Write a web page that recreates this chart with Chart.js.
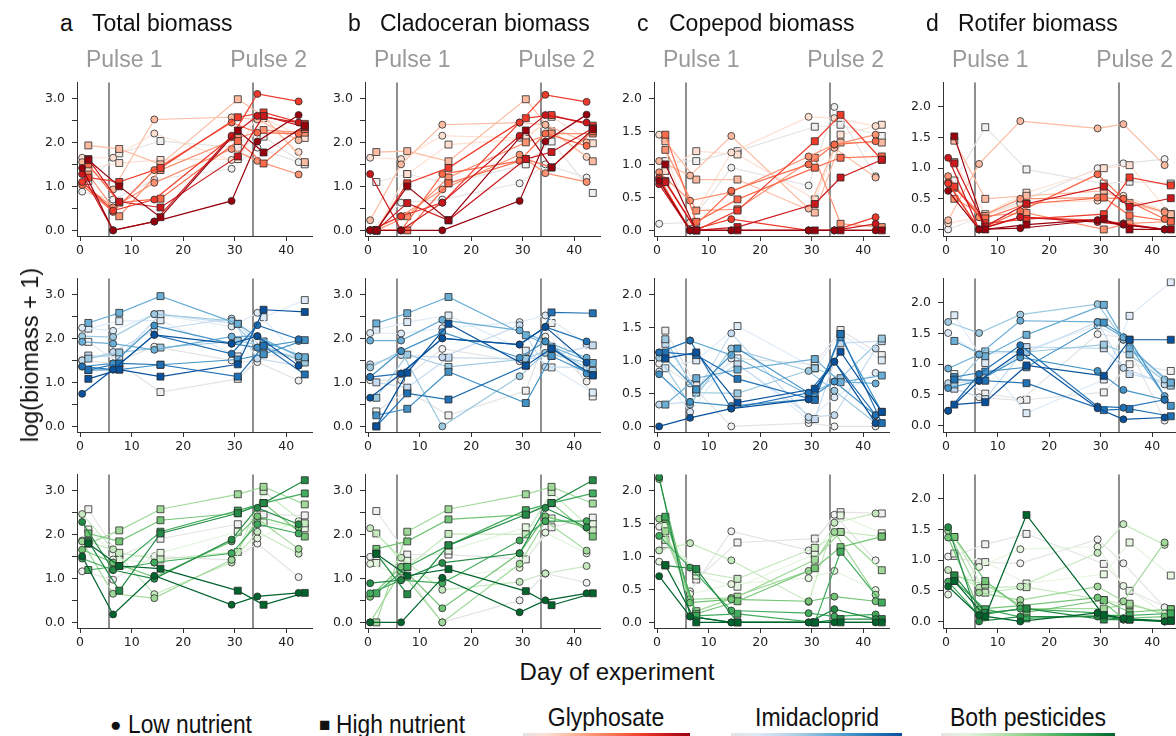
<!DOCTYPE html>
<html>
<head>
<meta charset="utf-8">
<script src="https://cdn.jsdelivr.net/npm/chart.js@4.4.0/dist/chart.umd.min.js"></script>
<style>
  body { margin: 0; width: 1176px; height: 736px; overflow: hidden; background: #fff; position: relative;
         font-family: "Liberation Sans", Arial, sans-serif; color: #111; }
  .t { position: absolute; white-space: nowrap; line-height: 24px; font-size: 23px; }
  .pulse { color: #999; }
  .leg { position: absolute; white-space: nowrap; font-family: "Liberation Sans", sans-serif; font-size: 25px; line-height: 26px; }
  .bar { position: absolute; height: 4px; top: 733px; }
  canvas { position: absolute; }
</style>
</head>
<body>
<script>
// sampling days; low nutrient tanks are plotted a bit left, high nutrient a bit right
const daysLow  = [0.4, 6.4, 14.4, 29.4, 34.4, 42.4];
const daysHigh = [1.6, 7.6, 15.6, 30.6, 35.6, 43.6];
const pulseDays = [5.6, 33.6];
const pulseLabels = ['Pulse 1', 'Pulse 2'];
const panelLetters = ['a', 'b', 'c', 'd'];
const panelTitles = ['Total biomass', 'Cladoceran biomass', 'Copepod biomass', 'Rotifer biomass'];
const legendNames = ['Glyphosate', 'Imidacloprid', 'Both pesticides'];

// 8 concentration levels, control (grey) -> highest
const reds   = ['#e4e4e4', '#fee0d2', '#fcbba1', '#fc9272', '#fb6a4a', '#ef3b2c', '#cb181d', '#99000d'];
const blues  = ['#e4e4e4', '#deebf7', '#c6dbef', '#9ecae1', '#6baed6', '#4292c6', '#2171b5', '#08519c'];
const greens = ['#e4e4e4', '#e5f5e0', '#c7e9c0', '#a1d99b', '#74c476', '#41ab5d', '#238b45', '#00642d'];

// log(biomass + 1), one row per concentration level, one value per sampling day
// ---- glyphosate ----
const totalGlyLow = [
  [0.88, 0.70, 1.15, 1.40, 1.88, 1.55], [1.65, 1.65, 2.20, 1.60, 2.60, 1.78],
  [1.55, 0.93, 2.52, 2.57, 2.52, 2.05], [1.08, 0.52, 1.08, 1.85, 1.58, 1.27],
  [1.03, 0.42, 1.37, 2.45, 2.22, 2.20], [1.10, 0.45, 0.70, 2.12, 3.10, 2.93],
  [1.28, 0.00, 0.20, 2.15, 2.60, 2.45], [1.42, 0.00, 0.20, 0.67, 2.02, 2.62]];
const totalGlyHigh = [
  [1.12, 1.75, 2.03, 1.88, 2.13, 1.50], [1.40, 1.53, 1.60, 1.62, 2.55, 2.10],
  [1.93, 1.85, 1.50, 2.98, 2.60, 1.55], [1.27, 0.32, 1.37, 2.10, 2.28, 2.22],
  [1.50, 0.63, 0.72, 2.03, 1.52, 2.30], [1.20, 1.10, 1.42, 2.57, 2.68, 2.42],
  [1.62, 0.65, 0.52, 1.68, 2.60, 2.35], [1.60, 1.00, 0.30, 2.27, 1.77, 2.38]];
const cladGlyLow = [
  [0.00, 0.63, 0.70, 1.07, 1.50, 1.20], [1.65, 1.62, 2.15, 2.10, 2.40, 1.67],
  [0.23, 1.50, 2.40, 2.45, 2.40, 2.00], [0.00, 0.32, 0.93, 1.72, 1.30, 1.10],
  [0.00, 0.00, 1.28, 1.58, 2.20, 1.92], [0.00, 0.32, 0.63, 2.45, 3.08, 2.92],
  [1.28, 0.00, 0.63, 2.15, 2.62, 2.45], [0.00, 0.00, 0.00, 0.67, 2.02, 2.63]];
const cladGlyHigh = [
  [1.10, 1.28, 1.07, 1.50, 2.02, 0.85], [0.00, 1.28, 1.95, 2.08, 2.58, 1.98],
  [1.78, 1.80, 1.57, 2.98, 2.25, 1.57], [0.00, 0.32, 1.20, 2.00, 2.20, 2.20],
  [0.00, 0.00, 1.07, 1.62, 1.43, 2.25], [0.00, 1.07, 1.42, 2.55, 2.62, 2.38],
  [0.00, 0.62, 0.23, 1.62, 1.78, 2.32], [0.00, 1.00, 0.23, 2.27, 1.43, 2.30]];
const copeGlyLow = [
  [0.10, 0.12, 0.95, 0.68, 1.87, 0.82], [1.45, 0.12, 1.18, 1.72, 1.70, 1.58],
  [1.05, 0.83, 1.43, 0.33, 1.25, 0.80], [0.88, 0.45, 0.58, 1.12, 1.30, 1.45],
  [0.80, 0.00, 0.60, 1.00, 1.30, 1.35], [0.78, 0.00, 0.17, 0.00, 0.00, 0.20],
  [0.70, 0.00, 0.00, 0.00, 0.00, 0.10], [0.75, 0.00, 0.00, 0.00, 0.00, 0.00]];
const copeGlyHigh = [
  [1.05, 1.05, 1.20, 1.57, 1.60, 1.43], [0.90, 1.20, 1.15, 0.47, 1.45, 1.60],
  [1.35, 0.77, 0.77, 0.27, 1.33, 1.33], [1.22, 0.30, 0.32, 1.10, 0.10, 0.05],
  [1.45, 0.13, 0.47, 0.95, 1.10, 1.12], [0.75, 0.00, 0.30, 1.35, 1.75, 1.07],
  [0.73, 0.00, 0.05, 0.40, 0.80, 1.07], [1.00, 0.00, 0.00, 0.00, 0.00, 0.00]];
const rotiGlyLow = [
  [0.00, 0.20, 0.45, 1.00, 1.08, 1.15], [0.10, 0.20, 0.42, 0.47, 0.55, 0.30],
  [0.15, 1.07, 1.77, 1.65, 1.72, 1.05], [0.87, 0.20, 0.50, 0.52, 0.50, 0.28],
  [0.77, 0.00, 0.30, 0.90, 0.50, 0.17], [0.75, 0.00, 0.20, 0.15, 0.10, 0.00],
  [1.17, 0.00, 0.20, 0.12, 0.08, 0.00], [0.63, 0.00, 0.02, 0.15, 0.08, 0.00]];
const rotiGlyHigh = [
  [0.80, 1.67, 0.98, 0.75, 0.78, 0.75], [1.10, 0.25, 0.60, 1.00, 1.05, 0.25],
  [1.45, 0.50, 0.55, 0.63, 0.43, 0.25], [0.50, 0.22, 0.27, 0.00, 0.10, 0.13],
  [0.68, 0.18, 0.42, 0.52, 0.23, 0.13], [0.70, 0.10, 0.17, 0.25, 0.85, 0.72],
  [1.08, 0.05, 0.42, 0.70, 0.37, 0.51], [1.52, 0.00, 0.08, 0.17, 0.00, 0.00]];
// ---- imidacloprid ----
const totalImiLow = [
  [1.50, 1.43, 1.81, 1.50, 1.46, 1.04], [2.24, 2.17, 2.55, 2.27, 2.58, 1.59],
  [1.50, 1.69, 2.19, 2.45, 1.54, 1.38], [2.05, 2.03, 2.55, 2.40, 1.79, 1.54],
  [1.92, 1.88, 1.74, 2.04, 2.05, 1.59], [1.36, 1.43, 2.29, 1.88, 1.79, 1.94],
  [1.36, 1.29, 2.08, 1.65, 2.30, 1.98], [0.74, 1.29, 2.08, 1.88, 2.05, 1.38]];
const totalImiHigh = [
  [1.92, 1.43, 0.78, 1.08, 1.64, 1.54], [2.22, 2.39, 2.41, 1.59, 2.48, 2.87],
  [1.61, 1.57, 2.55, 2.33, 1.76, 1.54], [1.54, 1.68, 1.79, 1.94, 1.83, 1.45],
  [2.35, 2.58, 2.96, 2.33, 1.93, 1.57], [1.28, 1.29, 1.40, 1.52, 1.64, 1.96],
  [1.28, 1.43, 1.40, 1.13, 1.83, 1.18], [1.08, 1.29, 1.13, 1.41, 2.65, 2.60]];
const cladImiLow = [
  [1.05, 1.05, 1.76, 1.48, 2.04, 1.02], [2.12, 2.11, 2.23, 2.37, 2.52, 1.86],
  [1.41, 1.62, 1.57, 2.30, 1.35, 1.34], [1.34, 1.71, 0.00, 1.14, 1.67, 1.45],
  [1.95, 1.95, 2.42, 2.18, 1.93, 1.56], [1.12, 1.71, 2.14, 1.56, 1.93, 1.20],
  [1.12, 1.20, 2.00, 1.86, 2.26, 1.93], [0.65, 1.20, 2.00, 1.86, 2.26, 1.45]];
const cladImiHigh = [
  [0.34, 0.81, 0.25, 0.81, 2.35, 0.68], [2.19, 2.37, 2.52, 1.72, 1.34, 0.77],
  [1.00, 0.88, 1.56, 1.53, 1.60, 1.84], [0.65, 1.63, 1.35, 1.53, 1.77, 1.26],
  [2.34, 2.57, 2.94, 2.07, 1.81, 1.44], [0.25, 0.40, 1.24, 0.53, 1.60, 1.16],
  [0.00, 0.75, 0.61, 1.38, 2.59, 2.57], [0.00, 1.22, 2.33, 1.38, 1.77, 1.16]];
const copeImiLow = [
  [0.95, 0.65, 0.00, 0.05, 0.00, 0.00], [0.83, 0.22, 1.03, 0.10, 0.44, 0.81],
  [0.33, 0.37, 1.41, 0.14, 0.17, 1.18], [1.04, 0.33, 1.18, 0.84, 0.54, 0.05],
  [1.12, 1.30, 1.08, 0.48, 0.68, 0.65], [0.79, 0.37, 0.31, 0.41, 0.68, 0.17],
  [1.12, 1.30, 0.27, 0.51, 0.98, 0.17], [0.00, 0.13, 0.27, 0.41, 0.98, 0.05]];
const copeImiHigh = [
  [1.45, 0.62, 1.03, 0.94, 1.46, 1.08], [0.88, 1.00, 1.52, 0.88, 1.40, 1.00],
  [1.25, 0.56, 0.94, 0.11, 1.26, 1.29], [1.32, 0.51, 0.50, 0.88, 0.73, 1.33],
  [0.33, 0.73, 0.86, 1.02, 0.67, 0.77], [1.03, 0.56, 1.18, 0.45, 1.35, 0.22],
  [1.12, 1.08, 0.72, 0.40, 1.40, 0.05], [1.03, 1.12, 0.36, 0.57, 1.13, 0.22]];
const rotiImiLow = [
  [0.64, 0.46, 0.41, 1.49, 1.44, 0.08], [1.51, 1.16, 1.20, 1.63, 1.40, 0.70],
  [0.69, 0.73, 1.15, 1.69, 0.94, 0.67], [1.69, 1.51, 1.81, 1.98, 1.40, 0.75],
  [0.93, 1.16, 1.71, 1.69, 1.44, 0.48], [0.61, 0.73, 1.11, 0.89, 0.58, 0.42],
  [0.24, 0.84, 1.31, 0.31, 0.29, 0.42], [0.24, 0.73, 1.20, 0.28, 0.10, 0.13]];
const rotiImiHigh = [
  [0.84, 0.52, 0.42, 0.54, 1.00, 0.89], [1.80, 1.02, 0.20, 0.75, 1.79, 2.34],
  [0.60, 0.43, 1.28, 1.26, 0.84, 0.70], [0.67, 1.21, 1.20, 1.32, 1.16, 0.65],
  [1.38, 1.13, 1.48, 1.97, 1.26, 0.70], [0.79, 0.88, 0.95, 1.68, 1.40, 0.32],
  [0.75, 0.73, 0.69, 0.25, 0.27, 0.15], [0.34, 0.38, 0.98, 0.81, 1.40, 1.40]];
// ---- both pesticides ----
const totalBothLow = [
  [1.16, 0.97, 1.50, 1.42, 1.79, 1.03], [1.86, 1.43, 1.36, 1.57, 1.91, 2.30],
  [2.46, 1.66, 0.64, 1.36, 2.06, 1.56], [1.84, 0.65, 0.55, 1.42, 2.35, 1.67],
  [1.65, 1.36, 1.03, 1.84, 2.41, 2.16], [1.45, 1.19, 1.36, 1.57, 2.23, 2.02],
  [2.28, 1.19, 0.99, 1.88, 2.60, 2.23], [1.50, 0.18, 1.06, 0.40, 0.59, 0.67]];
const totalBothHigh = [
  [2.57, 1.50, 1.90, 2.23, 2.45, 2.43], [2.11, 1.43, 1.58, 2.06, 2.27, 2.14],
  [1.84, 1.58, 1.43, 1.60, 2.98, 2.25], [1.79, 2.09, 2.57, 2.91, 3.08, 2.68],
  [2.02, 1.84, 2.32, 2.48, 2.71, 1.95], [1.19, 1.28, 2.06, 2.54, 2.71, 2.93],
  [1.84, 0.72, 2.02, 2.48, 2.71, 3.23], [1.79, 1.28, 1.22, 0.72, 0.40, 0.67]];
const cladBothLow = [
  [1.49, 1.26, 0.00, 0.50, 1.11, 0.90], [1.33, 1.06, 1.01, 1.24, 2.04, 1.57],
  [2.14, 1.47, 0.74, 0.92, 1.11, 1.28], [0.00, 1.15, 0.00, 1.33, 2.30, 1.63],
  [0.58, 1.26, 0.32, 1.57, 2.41, 2.16], [0.66, 0.96, 0.89, 1.86, 2.30, 2.30],
  [0.89, 0.96, 1.35, 1.57, 2.60, 2.16], [0.00, 0.00, 1.01, 0.23, 0.50, 0.66]];
const cladBothHigh = [
  [2.53, 1.54, 1.54, 1.43, 2.16, 2.38], [1.35, 1.40, 1.63, 2.16, 2.36, 2.23],
  [2.02, 1.26, 2.01, 2.00, 2.96, 2.09], [0.00, 2.06, 2.57, 2.91, 3.08, 2.70],
  [1.67, 1.84, 2.34, 2.45, 2.71, 1.95], [0.66, 1.26, 1.75, 2.55, 2.71, 2.93],
  [1.56, 0.64, 1.75, 2.45, 2.71, 3.23], [1.56, 1.06, 1.21, 0.71, 0.39, 0.66]];
const copeBothLow = [
  [1.45, 0.47, 1.38, 1.09, 1.63, 0.94], [0.92, 0.43, 0.58, 0.67, 0.78, 0.49],
  [1.09, 1.20, 0.94, 0.31, 1.51, 1.65], [1.57, 0.35, 0.37, 0.78, 1.37, 0.42],
  [2.17, 0.30, 0.35, 0.32, 0.39, 0.32], [1.31, 0.83, 0.18, 0.14, 0.09, 0.12],
  [2.20, 0.09, 0.00, 0.00, 0.20, 0.05], [0.70, 0.09, 0.00, 0.00, 0.00, 0.00]];
const copeBothHigh = [
  [1.18, 0.65, 1.21, 1.27, 1.67, 1.65], [1.46, 0.71, 0.54, 1.03, 1.62, 1.35],
  [1.25, 0.77, 0.66, 1.13, 1.37, 1.30], [1.38, 0.17, 0.39, 0.95, 1.37, 0.79],
  [1.57, 0.13, 0.32, 0.82, 1.14, 1.30], [1.60, 0.10, 0.13, 0.00, 1.07, 0.30],
  [0.86, 0.81, 0.00, 0.00, 0.05, 0.05], [0.87, 0.00, 0.00, 0.00, 0.00, 0.00]];
const rotiBothLow = [
  [1.06, 0.97, 0.95, 1.34, 0.95, 0.23], [0.44, 0.89, 1.18, 1.22, 0.58, 0.13],
  [0.84, 0.55, 0.57, 1.12, 1.59, 1.25], [1.48, 0.47, 0.35, 0.57, 0.33, 1.29],
  [1.37, 0.20, 0.26, 0.39, 0.05, 0.08], [0.65, 0.10, 0.21, 0.14, 0.03, 0.00],
  [1.54, 0.00, 0.08, 0.08, 0.03, 0.00], [0.57, 0.10, 0.00, 0.14, 0.05, 0.00]];
const rotiBothHigh = [
  [1.07, 1.26, 1.43, 0.94, 0.50, 0.20], [1.11, 0.97, 0.62, 0.77, 1.29, 0.75],
  [1.38, 0.47, 0.56, 0.35, 0.26, 0.13], [0.75, 0.60, 0.21, 0.21, 0.29, 0.08],
  [1.38, 0.66, 0.15, 0.35, 0.15, 0.20], [0.66, 0.20, 0.05, 0.10, 0.10, 0.13],
  [0.75, 0.14, 0.21, 0.03, 0.03, 0.01], [0.66, 0.08, 1.74, 0.10, 0.03, 0.01]];

const rows = [
  { pal: reds,   sets: [[totalGlyLow, totalGlyHigh], [cladGlyLow, cladGlyHigh], [copeGlyLow, copeGlyHigh], [rotiGlyLow, rotiGlyHigh]] },
  { pal: blues,  sets: [[totalImiLow, totalImiHigh], [cladImiLow, cladImiHigh], [copeImiLow, copeImiHigh], [rotiImiLow, rotiImiHigh]] },
  { pal: greens, sets: [[totalBothLow, totalBothHigh], [cladBothLow, cladBothHigh], [copeBothLow, copeBothHigh], [rotiBothLow, rotiBothHigh]] }
];

// layout
const colLeft = [77, 365, 654, 943];
const rowTop = [72, 268, 464];
const plotW = 235, plotH = 164;
const xMin = -0.6, xMax = 45;
const yRange = [[-0.128, 3.36], [-0.128, 3.36], [-0.085, 2.24], [-0.107, 2.40]];
const axisW = 50, axisH = 26, padTop = 4, padRight = 6;

function addText(txt, left, top, cls, extra) {
  const d = document.createElement('div');
  d.className = cls;
  d.textContent = txt;
  d.style.left = left + 'px';
  d.style.top = top + 'px';
  if (extra) Object.assign(d.style, extra);
  document.body.appendChild(d);
  return d;
}

const pulsePlugin = {
  id: 'pulse',
  beforeDatasetsDraw(chart) {
    const { ctx, chartArea, scales } = chart;
    ctx.save();
    ctx.strokeStyle = '#8e8e8e';
    ctx.lineWidth = 2;
    pulseDays.forEach(d => {
      const x = Math.round(scales.x.getPixelForValue(d));
      ctx.beginPath();
      ctx.moveTo(x, chartArea.top);
      ctx.lineTo(x, chartArea.bottom);
      ctx.stroke();
    });
    ctx.restore();
  }
};

function makeSets(low, high, pal) {
  const out = [];
  [low, high].forEach((grp, n) => {
    const days = n === 0 ? daysLow : daysHigh;
    grp.forEach((vals, lvl) => {
      out.push({
        data: vals.map((v, i) => ({ x: days[i], y: v })),
        borderColor: pal[lvl],
        borderWidth: 1.2,
        pointBackgroundColor: lvl === 0 ? '#f0f0f0' : pal[lvl],
        pointBorderColor: '#2a2a2a',
        pointBorderWidth: 0.8,
        pointStyle: n === 0 ? 'circle' : 'rect',
        pointRadius: n === 0 ? 3.5 : 4.9,
        order: 7 - lvl,
        tension: 0
      });
    });
  });
  return out;
}

const tickFont = { family: 'DejaVu Sans', size: 12.5 };

rows.forEach((row, r) => {
  row.sets.forEach((pair, c) => {
    const cv = document.createElement('canvas');
    cv.width = axisW + plotW + padRight;
    cv.height = padTop + plotH + axisH;
    cv.style.left = (colLeft[c] - axisW) + 'px';
    cv.style.top = (rowTop[r] - padTop) + 'px';
    document.body.appendChild(cv);
    const allLabels = c >= 2;
    new Chart(cv, {
      type: 'line',
      data: { datasets: makeSets(pair[0], pair[1], row.pal) },
      plugins: [pulsePlugin],
      options: {
        responsive: false,
        animation: false,
        events: [],
        layout: { padding: { top: padTop, right: padRight, left: 0, bottom: 0 } },
        plugins: { legend: { display: false }, tooltip: { enabled: false } },
        scales: {
          x: {
            type: 'linear', min: xMin, max: xMax,
            afterFit: s => { s.height = axisH; },
            border: { display: true, color: '#333', width: 1 },
            grid: { display: true, drawOnChartArea: false, drawTicks: true, tickLength: 5, color: '#333' },
            ticks: { stepSize: 10, includeBounds: false, autoSkip: false, maxRotation: 0,
                     color: '#222', font: tickFont, padding: 2 }
          },
          y: {
            min: yRange[c][0], max: yRange[c][1],
            afterFit: s => { s.width = axisW; },
            border: { display: true, color: '#333', width: 1 },
            grid: { display: true, drawOnChartArea: false, drawTicks: true, tickLength: 5, color: '#333' },
            ticks: { stepSize: 0.5, includeBounds: false, autoSkip: false, color: '#222', font: tickFont, padding: 7,
                     callback: v => (allLabels || Math.abs(v - Math.round(v)) < 1e-6) ? v.toFixed(1) : '' }
          }
        }
      }
    });
  });
});

// panel titles and pulse labels
const pxPerDay = plotW / (xMax - xMin);
colLeft.forEach((L, c) => {
  addText(panelLetters[c], L - 17, 11, 't');
  addText(panelTitles[c], L + 15, 11, 't');
  pulseDays.forEach((d, k) => {
    const px = L + (d - xMin) * pxPerDay;
    addText(pulseLabels[k], px - 23, 47, 't pulse');
  });
});

// axis titles
addText('log(biomass + 1)', 30, 355, 't', { transform: 'translate(-50%, -50%) rotate(-90deg)', fontSize: '23.5px' });
addText('Day of experiment', 617, 672, 't', { transform: 'translate(-50%, -50%)', fontSize: '24px' });

// legend
addText('\u25CF', 110, 712, 'leg', { fontSize: '19px' });
addText('Low nutrient', 128, 711, 'leg', { transform: 'scaleX(0.91)', transformOrigin: 'left center' });
addText('\u25A0', 319, 712, 'leg', { fontSize: '19px' });
addText('High nutrient', 336, 711, 'leg', { transform: 'scaleX(0.91)', transformOrigin: 'left center' });
const legCenters = [606, 817, 1028];
const barSpans = [[523, 690], [731, 902], [941, 1115]];
[reds, blues, greens].forEach((pal, k) => {
  addText(legendNames[k], legCenters[k], 704, 'leg', { transform: 'translateX(-50%) scaleX(0.92)' });
  const b = document.createElement('div');
  b.className = 'bar';
  b.style.left = barSpans[k][0] + 'px';
  b.style.width = (barSpans[k][1] - barSpans[k][0]) + 'px';
  b.style.background = 'linear-gradient(to right, ' + pal.join(', ') + ')';
  document.body.appendChild(b);
});
</script>
</body>
</html>
